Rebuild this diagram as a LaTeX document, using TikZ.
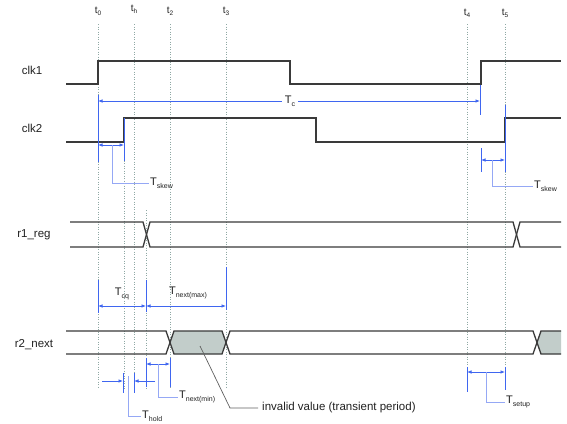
\documentclass[tikz,border=0pt]{standalone}
\usepackage{fontspec}
\setmainfont{Liberation Sans}
\usetikzlibrary{arrows.meta}
\definecolor{sig}{HTML}{3A3A3A}
\definecolor{grid}{HTML}{8FA8A4}
\definecolor{ablue}{HTML}{3F66F0}
\definecolor{lblue}{HTML}{95A8F5}
\definecolor{gfill}{HTML}{C2CDCA}
\definecolor{txt}{HTML}{222222}
\newcommand\Tsb[1]{T\raisebox{-0.45ex}{\fontsize{7}{7}\selectfont #1}}
\newcommand\tsb[1]{t\raisebox{-0.4ex}{\fontsize{6.5}{6.5}\selectfont #1}}
\tikzset{
  sigline/.style={draw=sig,line width=1.3pt,line join=miter},
  gridline/.style={draw=grid,line width=0.7pt,dash pattern=on 1pt off 1.5pt},
  tick/.style={draw=ablue,line width=0.7pt},
  dim/.style={draw=ablue,line width=0.7pt,{Latex[length=4.5pt,width=3.5pt]}-{Latex[length=4.5pt,width=3.5pt]}},
  onearrow/.style={draw=ablue,line width=0.7pt,-{Latex[length=4.5pt,width=3.5pt]}},
  leader/.style={draw=lblue,line width=0.9pt},
  siglabel/.style={font=\fontsize{11.5}{12}\selectfont,text=txt,inner sep=0pt},
  tlabel/.style={font=\fontsize{10}{10}\selectfont,text=txt,inner sep=0pt},
  dimlabel/.style={font=\fontsize{11}{11}\selectfont,text=txt,inner sep=1pt},
}
\begin{document}
\begin{tikzpicture}[x=1pt,y=-1pt]
\useasboundingbox (0,0) rectangle (567,423);
\fill[white] (0,0) rectangle (567,423);

% time labels
\node[tlabel] (lt0) at (98,11) {\tsb{0}};
\node[tlabel] (lth) at (134,9) {\tsb{h}};
\node[tlabel] (lt2) at (170,11) {\tsb{2}};
\node[tlabel] (lt3) at (226,11) {\tsb{3}};
\node[tlabel] (lt4) at (467,13) {\tsb{4}};
\node[tlabel] (lt5) at (505,13) {\tsb{5}};

% grid lines
\foreach \x in {98,134,170,226,467,505} \draw[gridline] (\x,24) -- (\x,389);
\draw[gridline] (124,118) -- (124,389);
\draw[gridline] (146,210) -- (146,389);

% signal labels
\node[siglabel] (nclk1) at (32,70) {clk1};
\node[siglabel] (nclk2) at (32,128) {clk2};
\node[siglabel] (nr1) at (34,235) {r1\_reg};
\node[siglabel] (nr2) at (34,345) {r2\_next};

% clocks
\draw[sigline] (66,84) -- (98,84) -- (98,61) -- (290,61) -- (290,84) -- (481,84) -- (481,61) -- (561,61);
\draw[sigline] (66,142) -- (124,142) -- (124,118) -- (316,118) -- (316,142) -- (505,142) -- (505,118) -- (561,118);

% r1_reg bus
\draw[sigline] (70,222) -- (143,222) -- (150,247) -- (513,247) -- (520,222) -- (561,222);
\draw[sigline] (70,247) -- (143,247) -- (150,222) -- (513,222) -- (520,247) -- (561,247);

% r2_next bus
\fill[gfill] (170,342.5) -- (174,331) -- (222,331) -- (226,342.5) -- (222,354) -- (174,354) -- cycle;
\fill[gfill] (537,342.5) -- (541,331) -- (561,331) -- (561,354) -- (541,354) -- cycle;
\draw[sigline] (66,331) -- (166,331) -- (174,354) -- (222,354) -- (230,331) -- (533,331) -- (541,354) -- (561,354);
\draw[sigline] (66,354) -- (166,354) -- (174,331) -- (222,331) -- (230,354) -- (533,354) -- (541,331) -- (561,331);

% Tc
\draw[tick] (98,95) -- (98,162);
\draw[tick] (480,85) -- (480,115);
\coordinate (tcL) at (98,101);
\coordinate (tcR) at (480,101);
\draw[dim] (tcL) -- (tcR);
\node[dimlabel,fill=white,inner xsep=3pt] (ntc) at (290,101) {\Tsb{c}};

% Tskew left
\draw[tick] (124,118) -- (124,161);
\coordinate (skL) at (98,145);
\coordinate (skR) at (124,145);
\draw[dim] (skL) -- (skR);
\node[dimlabel,anchor=west] (nsk1) at (149,183) {\Tsb{skew}};
\draw[leader] (112,145) |- (nsk1.west);

% Tskew right
\draw[tick] (481,148) -- (481,172);
\draw[tick] (505,105) -- (505,172);
\coordinate (sk2L) at (481,160);
\coordinate (sk2R) at (505,160);
\draw[dim] (sk2L) -- (sk2R);
\node[dimlabel,anchor=west] (nsk2) at (533,186) {\Tsb{skew}};
\draw[leader] (492,160) |- (nsk2.west);

% Tcq and Tnext(max)
\draw[tick] (98,280) -- (98,313);
\draw[tick] (146,280) -- (146,312);
\draw[tick] (226,267) -- (226,310);
\coordinate (cqL) at (98,306);
\coordinate (cqR) at (146,306);
\coordinate (nxR) at (226,306);
\draw[dim] (cqL) -- (cqR);
\draw[dim] (cqR) -- (nxR);
\node[dimlabel] (ncq) at (122,294) {\Tsb{cq}};
\node[dimlabel] (nnx) at (188,293) {\Tsb{next(max)}};

% Tnext(min)
\draw[tick] (146,358) -- (146,387);
\draw[tick] (170,358) -- (170,387);
\coordinate (nmL) at (146,364);
\coordinate (nmR) at (170,364);
\draw[dim] (nmL) -- (nmR);
\node[dimlabel,anchor=west] (nnm) at (178,397) {\Tsb{next(min)}};
\draw[leader] (158,364) |- (nnm.west);

% Thold
\draw[tick] (123,373) -- (123,393);
\draw[tick] (134,373) -- (134,393);
\coordinate (hA) at (102,381);
\coordinate (hB) at (123,381);
\coordinate (hC) at (155,381);
\coordinate (hD) at (134,381);
\draw[onearrow] (hA) -- (hB);
\draw[onearrow] (hC) -- (hD);
\node[dimlabel,anchor=west] (nho) at (141,416) {\Tsb{hold}};
\draw[leader] (128.5,376) |- (nho.west);

% Tsetup
\draw[tick] (467,367) -- (467,392);
\draw[tick] (505,367) -- (505,390);
\coordinate (suL) at (467,372);
\coordinate (suR) at (505,372);
\draw[dim] (suL) -- (suR);
\node[dimlabel,anchor=west] (nsu) at (505,402) {\Tsb{setup}};
\draw[leader] (486,372) |- (nsu.west);

% invalid value
\coordinate (inv) at (200,346);
\node[siglabel,anchor=west] (ninv) at (262,408) {invalid value (transient period)};
\draw[draw=sig!80,line width=0.7pt] (inv) -- (230,408) -- (258,408);
\end{tikzpicture}
\end{document}
